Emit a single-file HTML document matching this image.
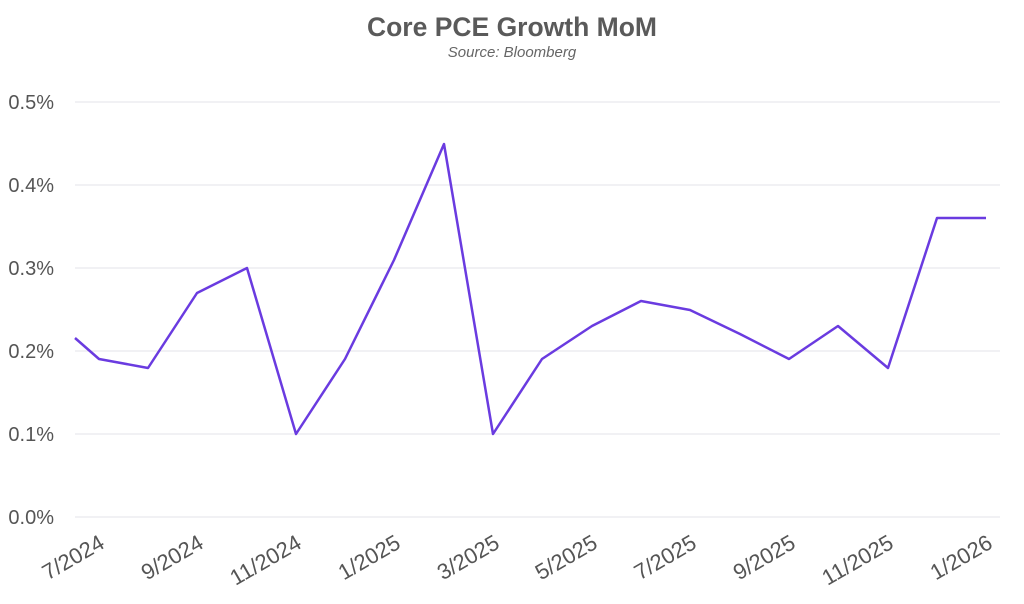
<!DOCTYPE html><html><head><meta charset="utf-8"><style>body{margin:0;background:#fff}svg{display:block}</style></head><body>
<svg width="1024" height="604" xmlns="http://www.w3.org/2000/svg" font-family="Liberation Sans, sans-serif">
<text x="512" y="36" text-anchor="middle" font-size="26.5" font-weight="bold" fill="#5a5a5a">Core PCE Growth MoM</text>
<text x="512" y="57" text-anchor="middle" font-size="15" font-style="italic" fill="#666">Source: Bloomberg</text>
<g stroke="#e3e3e8" stroke-width="1">
<line x1="75" y1="102" x2="1000" y2="102"/><line x1="75" y1="185" x2="1000" y2="185"/><line x1="75" y1="268" x2="1000" y2="268"/><line x1="75" y1="351" x2="1000" y2="351"/><line x1="75" y1="434" x2="1000" y2="434"/><line x1="75" y1="517" x2="1000" y2="517"/>
</g>
<g font-size="20" fill="#555" text-anchor="end">
<text x="54" y="109">0.5%</text><text x="54" y="192">0.4%</text><text x="54" y="275">0.3%</text><text x="54" y="358">0.2%</text><text x="54" y="441">0.1%</text><text x="54" y="524">0.0%</text>
</g>
<g font-size="22" fill="#555" text-anchor="end">
<text transform="translate(106,547) rotate(-30)">7/2024</text>
<text transform="translate(205,547) rotate(-30)">9/2024</text>
<text transform="translate(303,547) rotate(-30)">11/2024</text>
<text transform="translate(402,547) rotate(-30)">1/2025</text>
<text transform="translate(501,547) rotate(-30)">3/2025</text>
<text transform="translate(599,547) rotate(-30)">5/2025</text>
<text transform="translate(698,547) rotate(-30)">7/2025</text>
<text transform="translate(797,547) rotate(-30)">9/2025</text>
<text transform="translate(895,547) rotate(-30)">11/2025</text>
<text transform="translate(994,547) rotate(-30)">1/2026</text>
</g>
<polyline fill="none" stroke="#6a3be0" stroke-width="2.5" stroke-linejoin="round" points="75,338 99,359 148,368 197,293 247,268 296,434 345,359 394,260 444,144 493,434 542,359 592,326 641,301 690,310 740,334 789,359 838,326 888,368 937,218 986,218"/>
</svg>
</body></html>
